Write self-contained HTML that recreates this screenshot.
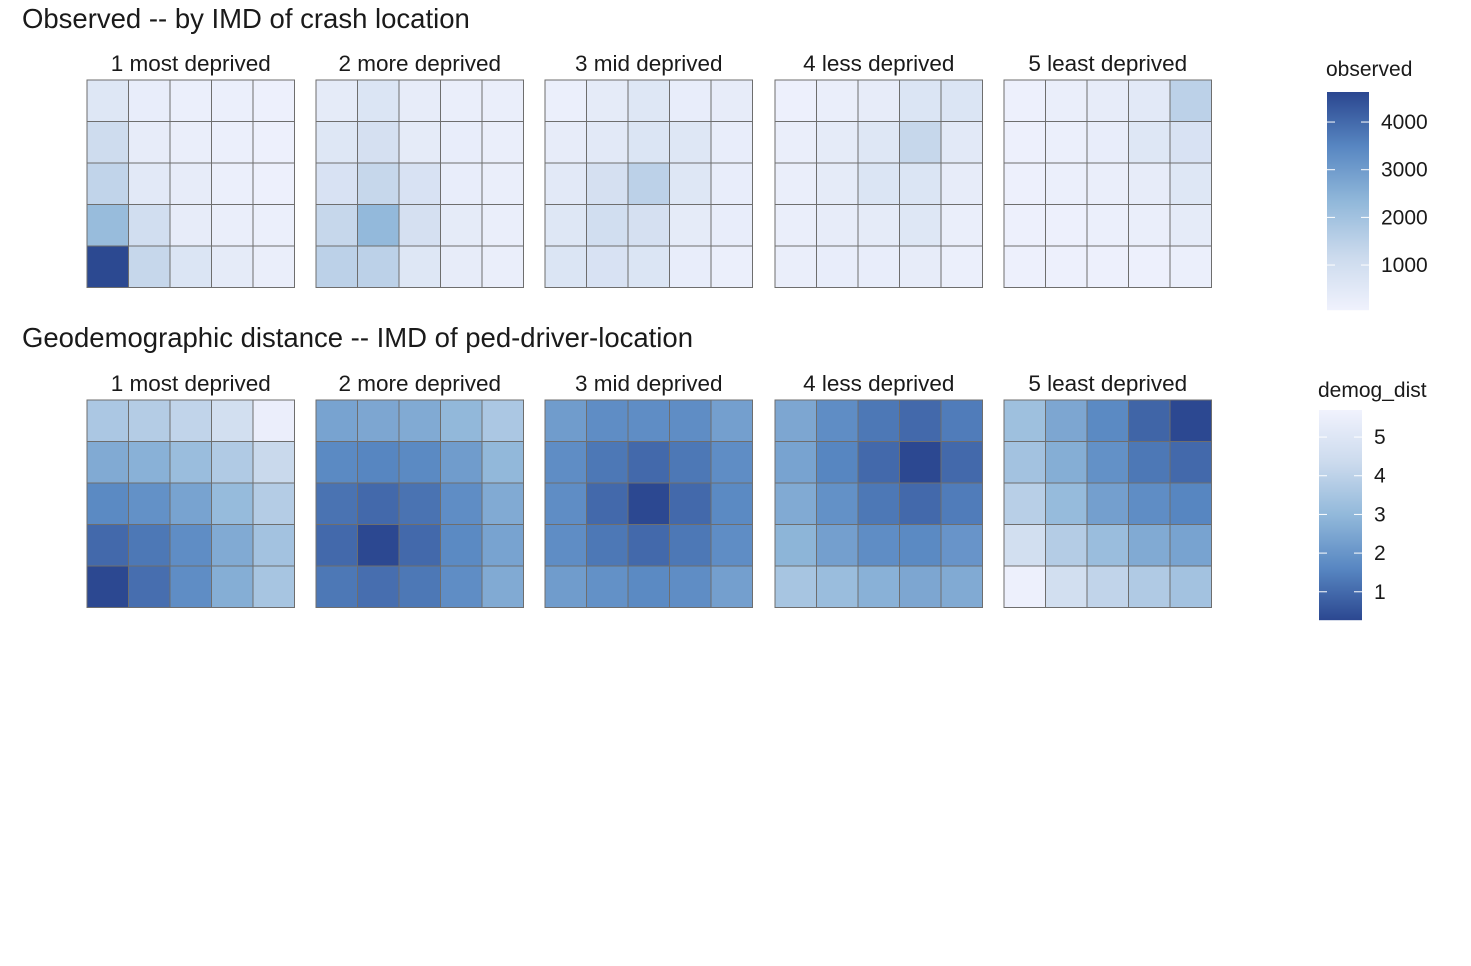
<!DOCTYPE html>
<html><head><meta charset="utf-8"><style>
body{margin:0;background:#fff;font-family:"Liberation Sans",sans-serif;}
svg text{font-family:"Liberation Sans",sans-serif;fill:#1a1a1a;}
</style></head><body>
<svg id="c" width="1471" height="961"></svg>
<script>
const facetLabels=["1 most deprived","2 more deprived","3 mid deprived","4 less deprived","5 least deprived"];
const observed=[
[[600,300,200,200,150],[1100,350,250,200,150],[1400,500,350,200,150],[2200,1000,350,250,200],[4600,1300,700,400,250]],
[[400,700,350,250,250],[600,900,400,300,250],[800,1300,800,300,250],[1300,2300,900,400,250],[1500,1500,600,350,250]],
[[200,400,600,300,350],[350,500,700,600,300],[500,900,1500,600,300],[600,1000,900,400,300],[700,800,700,300,200]],
[[150,250,350,700,700],[250,400,600,1300,500],[250,400,700,700,350],[250,350,400,600,250],[250,300,300,350,200]],
[[150,250,350,500,1500],[150,200,300,600,800],[150,200,250,350,600],[150,150,200,250,400],[150,150,150,150,200]]];
const demogDist=[
[[3.6,3.8,4.1,4.6,5.5],[2.6,2.8,3.2,3.7,4.3],[1.7,1.9,2.4,3.1,3.8],[1.0,1.3,1.8,2.6,3.4],[0.3,1.1,1.8,2.7,3.5]],
[[2.4,2.5,2.6,3.0,3.6],[1.7,1.6,1.7,2.2,3.0],[1.2,1.0,1.2,1.8,2.6],[1.0,0.3,1.0,1.7,2.4],[1.3,1.1,1.3,1.8,2.6]],
[[2.2,1.8,1.8,1.8,2.3],[1.8,1.3,1.0,1.3,1.8],[1.8,1.0,0.3,1.0,1.7],[1.8,1.3,1.0,1.3,1.8],[2.2,1.9,1.7,1.8,2.3]],
[[2.5,1.8,1.3,1.0,1.4],[2.4,1.6,1.0,0.3,1.0],[2.6,1.9,1.3,1.0,1.4],[2.9,2.3,1.8,1.7,2.0],[3.5,3.2,2.8,2.5,2.6]],
[[3.3,2.5,1.7,0.9,0.3],[3.4,2.7,1.9,1.3,1.0],[3.9,3.1,2.3,1.8,1.6],[4.6,3.8,3.2,2.6,2.4],[5.6,4.6,4.1,3.7,3.4]]];
const obsTicks=[1000,2000,3000,4000];
const demogTicks=[1,2,3,4,5];
const obsDomain=[57,4630];
const demogDomain=[0.27,5.7];

const NS="http://www.w3.org/2000/svg";
const svg=document.getElementById('c');
const stops=[[240,242,253],[203,218,237],[145,184,218],[88,135,194],[43,71,144]];
function col(t){t=Math.max(0,Math.min(1,t));const s=t*4,i=Math.min(3,Math.floor(s)),f=s-i;
 const a=stops[i],b=stops[i+1];return `rgb(${a.map((v,k)=>Math.round(v+(b[k]-v)*f)).join(',')})`;}
function el(tag,attrs,parent){const e=document.createElementNS(NS,tag);for(const k in attrs)e.setAttribute(k,attrs[k]);(parent||svg).appendChild(e);return e;}
function txt(x,y,s,size,anchor,parent){const t=el('text',{x:x,y:y,'font-size':size,'text-anchor':anchor||'start'},parent);t.textContent=s;return t;}

const panelX=[87,316,545,775,1004], cell=41.5;
function block(title,titleY,topY,data,tFn,nameKey){
 const g=el('g',{});
 
 
 const tt=txt(22,titleY,title,27.5,'start',g);
 
 
 data.forEach((panel,p)=>{
  const lab=txt(panelX[p]+cell*2.5,topY-9,facetLabels[p],22.5,'middle',g);
  
  
  panel.forEach((row,r)=>row.forEach((v,c)=>{
   const rc=el('rect',{x:panelX[p]+c*cell,y:topY+r*cell,width:cell,height:cell,fill:col(tFn(v)),stroke:'#6e6e6e','stroke-width':1},g);
   
   
  }));
 });
}
const tObs=v=>(v-obsDomain[0])/(obsDomain[1]-obsDomain[0]);
const tDem=v=>(demogDomain[1]-v)/(demogDomain[1]-demogDomain[0]);
block("Observed -- by IMD of crash location",28,80,observed,tObs,'observed');
block("Geodemographic distance -- IMD of ped-driver-location",347,400,demogDist,tDem,'demog');

// posFn: 0 at bottom, 1 at top (value axis increasing upward)
function legend(title,x,y0,y1,w,titleY,ticks,posFn,colFn,name){
 const g=el('g',{});
 
 
 const lt=txt(x-1,titleY,title,21,'start',g);
 
 
 for(let y=y0;y<y1;y++){const u=1-(y-y0)/(y1-y0);el('rect',{x:x,y:y,width:w,height:1.2,fill:col(colFn(u))},g);}
 ticks.forEach(v=>{const y=y1-posFn(v)*(y1-y0);
  el('line',{x1:x,x2:x+8,y1:y,y2:y,stroke:'#fff','stroke-width':1},g);
  el('line',{x1:x+w-8,x2:x+w,y1:y,y2:y,stroke:'#fff','stroke-width':1},g);
  const tl=txt(x+w+12,y+7,String(v),21,'start',g);
  
  
 });
}
legend("observed",1327,92,310,42,76,obsTicks,tObs,u=>u,'observed-legend');
legend("demog_dist",1319,410,620,43,397,demogTicks,
 v=>(v-demogDomain[0])/(demogDomain[1]-demogDomain[0]),u=>1-u,'demog-legend');
</script>
</body></html>
